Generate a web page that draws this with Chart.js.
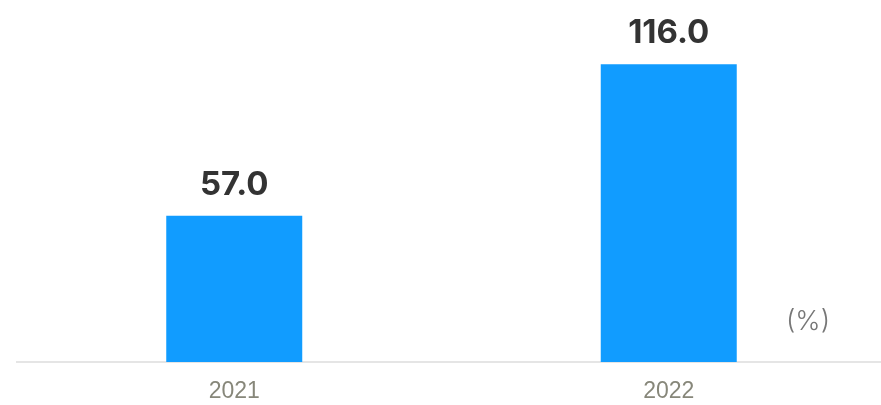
<!DOCTYPE html>
<html>
<head>
<meta charset="utf-8">
<script src="https://cdn.jsdelivr.net/npm/chart.js@4/dist/chart.umd.min.js"></script>
<style>
  html, body { margin: 0; padding: 0; background: #fff; overflow: hidden; }
  canvas { display: block; }
</style>
</head>
<body>
<canvas id="growthChart" width="886" height="405"></canvas>
<script>
// Categories and values
var years = ["2021", "2022"];
var growth = [57.0, 116.0];
var unitLabel = "(%)";

// Value labels over each bar, plus the unit tag
var barValuePlugin = {
  id: "barValues",
  afterDatasetsDraw: function (chart) {
    var ctx = chart.ctx;
    var meta = chart.getDatasetMeta(0);
    ctx.save();
    ctx.fillStyle = "#333333";
    ctx.font = "bold 33px Inter, 'DejaVu Sans', sans-serif";
    ctx.textAlign = "center";
    ctx.textBaseline = "alphabetic";
    meta.data.forEach(function (bar, i) {
      ctx.fillText(growth[i].toFixed(1), bar.x, bar.y - 21);
    });

    var area = chart.chartArea;
    ctx.fillStyle = "#777777";
    ctx.font = "300 27px Inter, sans-serif";
    ctx.textBaseline = "middle";
    ctx.fillText(unitLabel, area.right - 78, area.bottom - 40);
    ctx.restore();
  }
};

var chart = new Chart(document.getElementById("growthChart"), {
  type: "bar",
  data: {
    labels: years,
    datasets: [
      {
        data: growth,
        backgroundColor: "#119cff",
        borderWidth: 0,
        categoryPercentage: 1,
        barPercentage: 0.313
      }
    ]
  },
  options: {
    responsive: false,
    animation: false,
    layout: { padding: { left: 17, right: 0, top: 0, bottom: 0 } },
    plugins: {
      legend: { display: false },
      tooltip: { enabled: false }
    },
    scales: {
      x: {
        grid: { display: false },
        border: { color: "#e5e5e5", width: 2 },
        ticks: {
          color: "#87877a",
          font: { family: "'Liberation Sans', Arial, sans-serif", size: 23 },
          padding: 8
        },
        afterFit: function (scale) {
          scale.height = 43;
        }
      },
      y: {
        display: false,
        min: 0,
        max: 141
      }
    }
  },
  plugins: [barValuePlugin]
});
</script>
</body>
</html>
